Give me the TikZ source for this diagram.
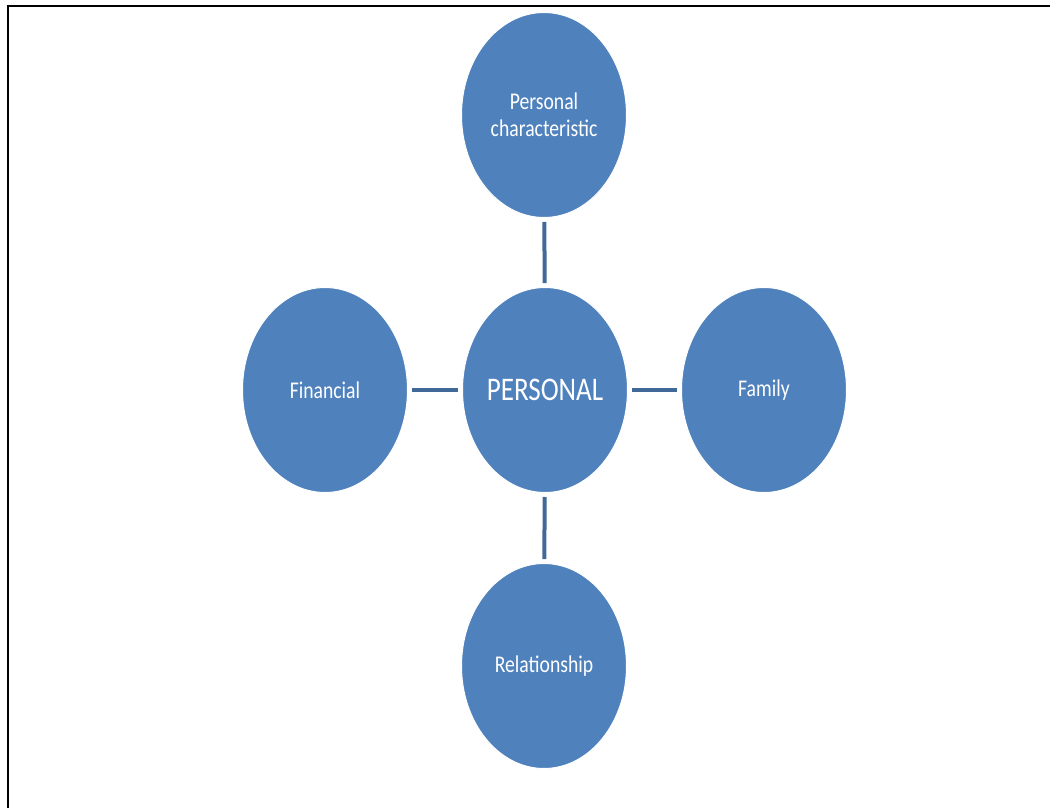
\documentclass[tikz,border=0pt]{standalone}
\usepackage{fontspec}
\usepackage{xcolor}
\usepackage{tikz}
\usetikzlibrary{shapes.geometric}
\newfontfamily\bubblefont{Carlito}[FakeStretch=0.82]
\definecolor{bubbleblue}{RGB}{79, 129, 189}
\definecolor{linkblue}{RGB}{65, 105, 152}

\begin{document}
\begin{tikzpicture}[x=1pt, y=-1pt,
    bubble/.style={ellipse, fill=bubbleblue, draw=white, line width=1pt,
        minimum width=165pt, minimum height=205pt, inner sep=0pt,
        text=white, align=center, font=\bubblefont\fontsize{24}{27}\selectfont},
    link/.style={linkblue, line width=4pt, shorten <=4pt, shorten >=4pt}]
        \useasboundingbox (0,0) rectangle (1050,808);
        % frame (left and top edges only)
        \draw[line width=2.5pt] (8,808) -- (8,6.25) -- (1050,6.25);
        \node[bubble, font=\bubblefont\fontsize{33}{36}\selectfont] (personal) at (545,390) {PERSONAL};
        \node[bubble] (charac) at (544,115) {Personal\\characteristic};
        \node[bubble] (financial) at (325,390) {Financial};
        \node[bubble] (family) at (764,390) {Family};
        \node[bubble] (relation) at (544,666) {Relationship};
        \draw[link] (charac) -- (personal);
        \draw[link] (financial) -- (personal);
        \draw[link] (personal) -- (family);
        \draw[link] (personal) -- (relation);
    \end{tikzpicture}
\end{document}
